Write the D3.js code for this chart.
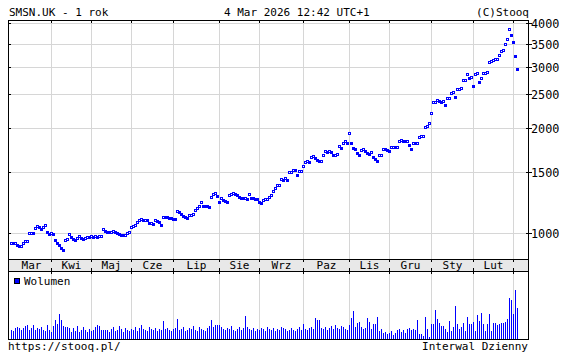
<!DOCTYPE html>
<html><head><meta charset="utf-8">
<script src="https://cdn.jsdelivr.net/npm/d3@7"></script>
<style>
html,body{margin:0;padding:0;background:#fff;}
svg{display:block;}
text{font-family:"DejaVu Sans Mono",monospace;}
</style></head>
<body><svg id="c" width="565" height="357"></svg>
<script>
// ---- data ----
const title = "SMSN.UK - 1 rok";
const stamp = "4 Mar 2026 12:42 UTC+1";
const copyright = "(C)Stooq";
const footerLeft = "https://stooq.pl/";
const footerRight = "Interwal Dzienny";
const legendLabel = "Wolumen";
const monthLabels = ["Mar","Kwi","Maj","Cze","Lip","Sie","Wrz","Paz","Lis","Gru","Sty","Lut",""];
const monthDays = [20,20,20,21,23,20,22,23,20,21,21,20,3];
const yTicks = [1000,1500,2000,2500,3000,3500,4000];
const closes = [
 938,935,940,925,918,922,940,948,950,1000,1005,1003,1036,1050,1040,1030,1045,1055,1011,998,
 1000,995,957,940,925,905,898,957,960,995,975,960,958,970,982,970,965,972,978,976,
 980,978,982,979,981,983,1029,1012,1011,1008,1010,1012,1010,1005,995,989,988,990,1005,1011,
 1045,1050,1057,1075,1090,1100,1092,1095,1090,1068,1070,1065,1092,1085,1078,1058,1117,1115,1112,1106,1104,
 1100,1098,1162,1154,1135,1120,1110,1106,1125,1129,1135,1166,1180,1200,1228,1201,1198,1195,1193,1275,1300,1309,1280,
 1233,1263,1250,1240,1233,1289,1295,1306,1300,1289,1275,1265,1260,1262,1258,1295,1263,1260,1258,1255,
 1233,1222,1250,1252,1255,1270,1289,1318,1350,1375,1378,1431,1424,1443,1424,1496,1500,1523,1520,1472,1505,1510,
 1560,1597,1607,1605,1655,1665,1640,1620,1607,1610,1673,1718,1706,1718,1715,1678,1682,1690,1776,1758,1816,1835,1820,
 1941,1816,1760,1740,1700,1675,1738,1746,1725,1700,1690,1705,1650,1630,1607,1675,1680,1746,1740,1735,
 1727,1769,1772,1768,1770,1845,1850,1837,1835,1840,1795,1746,1816,1812,1818,1890,1895,1905,2020,2025,2065,
 2217,2377,2380,2405,2392,2385,2395,2328,2448,2450,2532,2535,2455,2587,2600,2617,2753,2760,2856,2790,2800,
 2644,2856,2888,2720,2790,2880,2890,2900,3090,3120,3140,3155,3170,3240,3340,3345,3490,3600,3850,3700,
 3530,3220,2960
];
const volumes = [
 93,83,107,120,107,93,110,133,140,93,110,140,93,107,103,120,93,77,140,90,
 73,133,193,147,253,193,127,120,120,107,70,110,77,127,67,93,120,87,67,100,
 77,93,120,140,127,93,87,93,90,70,100,120,80,90,130,100,70,110,90,80,
 100,90,120,80,110,140,100,90,80,120,100,90,110,80,100,90,180,100,110,90,80,
 100,110,197,90,100,120,80,90,110,100,130,90,80,120,100,90,80,110,130,187,120,137,137,
 137,120,100,90,110,100,130,90,80,100,120,90,110,227,120,100,90,110,80,100,
 90,110,100,80,120,100,90,110,80,100,90,120,110,100,80,90,110,90,80,100,120,90,
 147,100,90,110,120,100,210,187,187,110,100,120,90,110,130,100,140,110,100,130,120,100,90,
 140,210,277,120,160,170,120,100,110,210,170,100,147,147,220,80,100,60,70,50,
 60,80,40,60,90,100,70,90,60,100,110,90,100,90,187,50,50,30,220,100,20,
 150,153,287,200,160,130,127,100,70,180,80,120,327,150,100,120,160,80,220,150,150,
 170,80,237,180,260,150,80,150,247,80,160,160,140,150,160,160,170,200,410,387,
 247,487,310
];

// ---- layout ----
const L = 8, R = 528, T = 20, PB = 259, BB = 271, VB = 339;
const BLUE = "#0000ff", GRID = "#d6d6d6", AX = "#000";
const svg = d3.select("#c");
svg.append("rect").attr("width",565).attr("height",357).attr("fill","#fff");

const n = closes.length;
const x = d3.scaleLinear().domain([0, n-1]).range([11, 11 + 2*(n-1)]);
const y = d3.scaleLog().domain([844, 4061]).range([PB, T+1]);
const yv = d3.scaleLinear().domain([0, 680]).range([VB, BB]);

const starts = []; let acc = 0;
monthDays.forEach(d=>{ starts.push(acc); acc += d; });
const gridX = starts.slice(1).map(s => Math.round(x(s)) + 0.5);

svg.append("rect").attr("x",L).attr("y",PB).attr("width",R-L).attr("height",BB-PB).attr("fill","#e8e8e8");

gridX.forEach(gx=>{
  svg.append("line").attr("x1",gx).attr("x2",gx).attr("y1",T).attr("y2",PB).attr("stroke",GRID);
  svg.append("line").attr("x1",gx).attr("x2",gx).attr("y1",BB).attr("y2",VB).attr("stroke",GRID);
  [[T,T+3],[PB,PB+3],[BB-3,BB],[BB,BB+3]].forEach(([a,b])=>{
    svg.append("line").attr("x1",gx).attr("x2",gx).attr("y1",a).attr("y2",b).attr("stroke",AX);
  });
});
yTicks.forEach(v=>{
  const yy = Math.round(y(v)) + 0.5;
  svg.append("line").attr("x1",L).attr("x2",R).attr("y1",yy).attr("y2",yy).attr("stroke",GRID);
  svg.append("line").attr("x1",L).attr("x2",L+3).attr("y1",yy).attr("y2",yy).attr("stroke",AX);
  svg.append("line").attr("x1",R-2).attr("x2",R+4).attr("y1",yy).attr("y2",yy).attr("stroke",AX);
  svg.append("text").attr("x",R+3).attr("y",yy+4.5).attr("font-size","11.8px").attr("fill","#000").text(v);
});

// candle markers at each close: hollow when up vs previous close, filled when down
const g = svg.append("g");
closes.forEach((c,i)=>{
  const prev = i>0 ? closes[i-1] : c;
  const px = Math.round(x(i));
  const yc = Math.round(y(c));
  if (c >= prev) {
    g.append("rect").attr("x",px-0.5).attr("y",yc-0.5).attr("width",2).attr("height",2)
      .attr("fill","#fff").attr("stroke",BLUE).attr("stroke-width",1);
  } else {
    g.append("rect").attr("x",px-1).attr("y",yc-1).attr("width",3).attr("height",3).attr("fill",BLUE);
  }
});

svg.append("g").selectAll("rect").data(volumes).join("rect")
  .attr("x",(d,i)=>Math.round(x(i))).attr("width",1)
  .attr("y",d=>Math.round(yv(d))).attr("height",d=>VB-Math.round(yv(d)))
  .attr("fill",BLUE);

[[T,PB],[PB,BB],[BB,VB]].forEach(([a,b])=>{
  svg.append("rect").attr("x",L+0.5).attr("y",a+0.5).attr("width",R-L).attr("height",b-a)
    .attr("fill","none").attr("stroke",AX);
});

monthLabels.forEach((m,k)=>{
  if(!m) return;
  const cx = (x(starts[k]) + x(starts[k]+monthDays[k]-1))/2 + 1.5;
  svg.append("text").attr("x",cx).attr("y",269).attr("text-anchor","middle").attr("font-size","11px").attr("fill","#000").text(m);
});

svg.append("rect").attr("x",14.5).attr("y",278.5).attr("width",5).attr("height",5).attr("fill",BLUE).attr("stroke","#000");
svg.append("text").attr("x",24).attr("y",285).attr("font-size","11px").attr("fill","#000").text(legendLabel);

svg.append("text").attr("x",9).attr("y",16).attr("font-size","11px").attr("fill","#000").text(title);
svg.append("text").attr("x",224).attr("y",16).attr("font-size","11px").attr("fill","#000").text(stamp);
svg.append("text").attr("x",529).attr("y",16).attr("text-anchor","end").attr("font-size","11px").attr("fill","#000").text(copyright);
svg.append("text").attr("x",8).attr("y",350).attr("font-size","11px").attr("fill","#000").text(footerLeft);
svg.append("text").attr("x",528).attr("y",350).attr("text-anchor","end").attr("font-size","11px").attr("fill","#000").text(footerRight);
</script></body></html>
